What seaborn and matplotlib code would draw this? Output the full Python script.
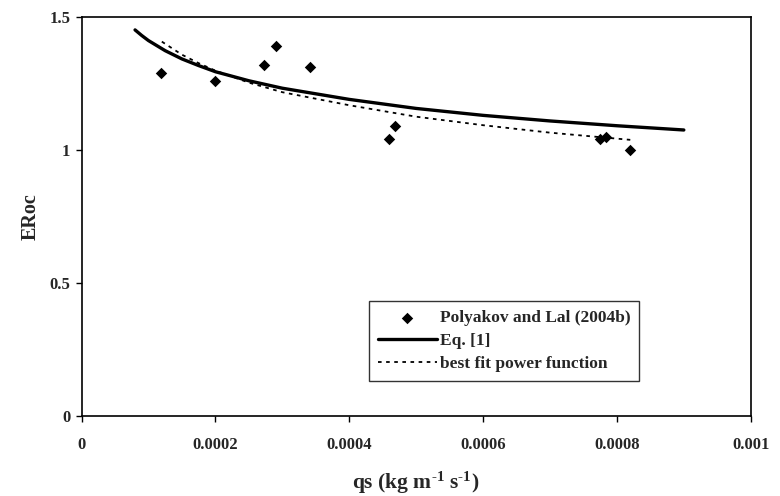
import matplotlib
matplotlib.use("Agg")
import matplotlib.pyplot as plt
import numpy as np
import pandas as pd
import seaborn as sns

# measured points, Polyakov and Lal (2004b)
qs_obs = [0.000119, 0.000200, 0.000272, 0.000291, 0.000341,
          0.000459, 0.000468, 0.000775, 0.000784, 0.000820]
eroc_obs = [1.29, 1.26, 1.32, 1.39, 1.31,
            1.04, 1.09, 1.04, 1.05, 1.00]

# Eq. [1]
qs_eq = [0.00008, 0.00009, 0.0001, 0.000125, 0.00015, 0.000175, 0.0002,
         0.00025, 0.0003, 0.0004, 0.0005, 0.0006, 0.0007, 0.0008, 0.0009]
eroc_eq = [1.451, 1.430, 1.411, 1.373, 1.342, 1.317, 1.294,
           1.260, 1.232, 1.190, 1.156, 1.130, 1.109, 1.091, 1.075]

# best fit power function
qs_fit = [0.00012, 0.00015, 0.000175, 0.0002, 0.00025, 0.0003, 0.0004,
          0.0005, 0.0006, 0.0007, 0.00082]
eroc_fit = [1.407, 1.358, 1.326, 1.298, 1.253, 1.217, 1.168,
            1.125, 1.093, 1.065, 1.038]

xticks = [0, 0.0002, 0.0004, 0.0006, 0.0008, 0.001]
xticklabels = ["0", "0.0002", "0.0004", "0.0006", "0.0008", "0.001"]
yticks = [0, 0.5, 1, 1.5]
yticklabels = ["0", "0.5", "1", "1.5"]

sns.set_style("ticks")
plt.rcParams['font.family'] = ['Liberation Serif', 'DejaVu Serif']
plt.rcParams['mathtext.fontset'] = 'custom'
plt.rcParams['mathtext.rm'] = 'Liberation Serif:bold'
plt.rcParams['mathtext.it'] = 'Liberation Serif:bold'
plt.rcParams['mathtext.bf'] = 'Liberation Serif:bold'

df_obs = pd.DataFrame({"qs": qs_obs, "ERoc": eroc_obs})
df_eq = pd.DataFrame({"qs": qs_eq, "ERoc": eroc_eq})
df_fit = pd.DataFrame({"qs": qs_fit, "ERoc": eroc_fit})

fig = plt.figure(figsize=(7.8, 4.96), dpi=100)
ax = fig.add_axes([0.1045, 0.161, 0.858, 0.805])

sns.scatterplot(data=df_obs, x="qs", y="ERoc", marker="D", s=34, color="black",
                edgecolor="black", linewidth=0, ax=ax, label="Polyakov and Lal (2004b)")
sns.lineplot(data=df_eq, x="qs", y="ERoc", color="black", linewidth=2.4, ax=ax,
             label="Eq. [1]")
sns.lineplot(data=df_fit, x="qs", y="ERoc", color="black", linewidth=1.3,
             linestyle=(0, (2, 2.5)), ax=ax, label="best fit power function")

ax.set_xlim(0, 0.001)
ax.set_ylim(0, 1.5)
ax.set_xticks(xticks)
ax.set_xticklabels(xticklabels, fontsize=12, fontweight="bold")
ax.set_yticks(yticks)
ax.set_yticklabels(yticklabels, fontsize=12, fontweight="bold")
ax.tick_params(direction="out", length=4, width=1, color="black", pad=11)
ax.tick_params(axis="y", pad=4)

for sp in ax.spines.values():
    sp.set_visible(True)
    sp.set_color("black")
    sp.set_linewidth(1.2)

ax.set_xlabel(r"qs (kg m$^{\text{-1}}$ s$^{\text{-1}}$)", fontsize=15.5,
              fontweight="bold", labelpad=12)
ax.set_ylabel("ERoc", fontsize=14.5, fontweight="bold", labelpad=6)

leg = ax.legend(loc="lower left", bbox_to_anchor=(0.43, 0.088), fontsize=12.5,
                frameon=True, fancybox=False, handlelength=3.4, handletextpad=0.15,
                borderpad=0.5, labelspacing=0.4, borderaxespad=0)
leg.get_frame().set_edgecolor("black")
leg.get_frame().set_linewidth(1.0)
for t in leg.get_texts():
    t.set_fontweight("bold")

fig.savefig("out.png", dpi=100)
